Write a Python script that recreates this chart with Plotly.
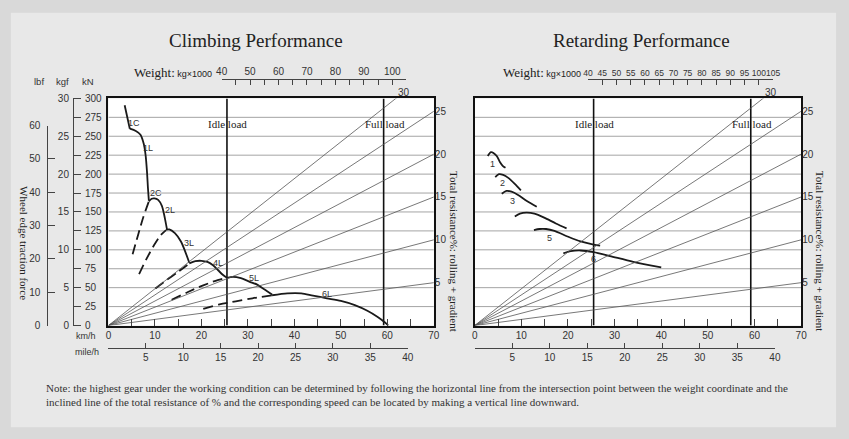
import plotly.graph_objects as go

# ---------------- data ----------------
speed_ticks = [0, 10, 20, 30, 40, 50, 60, 70]
speed_minor_ticks = [5, 15, 25, 35, 45, 55, 65]
mph_ticks = [0, 5, 10, 15, 20, 25, 30, 35, 40]
mph_labels = ["", "5", "10", "15", "20", "25", "30", "35", "40"]
force_kn_ticks = [0, 25, 50, 75, 100, 125, 150, 175, 200, 225, 250, 275, 300]
force_kgf_ticks = [0, 5, 10, 15, 20, 25, 30]
force_lbf_ticks = [0, 10, 20, 30, 40, 50, 60]
weight_climb_ticks = [40, 50, 60, 70, 80, 90, 100]
weight_climb_minor = [45, 55, 65, 75, 85, 95, 105]
weight_retard_ticks = [40, 45, 50, 55, 60, 65, 70, 75, 80, 85, 90, 95, 100, 105]
resistance_ticks = [5, 10, 15, 20, 25]
resistance_lines = [5, 10, 15, 20, 25, 30]
idle_load_speed = 25.5
full_load_speed = 59.2

# climbing performance: speed (km/h) / traction force (kN)
c1c_speed = [3.5, 4.6]
c1c_force = [291, 260]
c1l_speed = [4.6, 5.9, 6.9, 7.6, 8.0, 8.3, 8.5, 8.7]
c1l_force = [260, 257, 252, 240, 225, 203, 182, 165]
c2_dash_speed = [5.2, 6.4, 7.5, 8.7]
c2_dash_force = [94, 120, 143, 164]
c2_speed = [8.7, 9.3, 9.9, 10.7, 11.5, 12.0, 12.3, 12.6]
c2_force = [164, 167.5, 168, 166, 158, 146, 137, 127]
c3_dash_speed = [6.6, 8.2, 9.8, 11.2, 12.4]
c3_dash_force = [68, 88, 106, 119, 126]
c3_speed = [12.4, 13.1, 14.3, 15.6, 16.5, 17.4]
c3_force = [126.5, 127, 122, 111, 98, 83]
c4_dash_speed = [10.1, 12.5, 15.0, 17.4]
c4_dash_force = [49, 60, 71, 82]
c4_speed = [17.4, 18.7, 20.0, 21.3, 22.5, 23.6, 24.6, 25.5]
c4_force = [82, 85, 85.5, 84, 79.5, 73, 67, 63]
c5_dash_speed = [13.6, 17.0, 20.4, 23.5, 25.5]
c5_dash_force = [34, 44, 53, 60, 63]
c5_speed = [25.5, 26.8, 28.5, 30.3, 32.0, 33.5, 35.2]
c5_force = [63, 64.3, 62.5, 58, 54, 48, 41]
c6_dash_speed = [20.4, 23.9, 27.4, 31.0, 35.2]
c6_dash_force = [22, 28, 32, 36, 40]
c6_speed = [35.2, 38.5, 41.5, 44.0, 47.0, 50.0, 53.0, 55.7, 58.0, 59.5, 60.2]
c6_force = [40, 42.5, 42.5, 39.5, 36, 32.5, 27, 19.5, 11, 4, 0]

climb_labels = ["1C", "1L", "2C", "2L", "3L", "4L", "5L", "6L"]
climb_label_speed = [5.6, 8.5, 10.2, 13.3, 17.4, 23.5, 31.4, 47.0]
climb_label_force = [268, 234, 174.5, 153, 109, 82, 62.4, 41.6]

# retarding performance: speed (km/h) / force (kN)
r1_speed = [2.8, 3.5, 4.7, 5.4, 6.0, 6.6]
r1_force = [224, 229, 224, 216, 211, 208.5]
r2_speed = [4.4, 5.2, 6.1, 7.2, 8.6, 9.9]
r2_force = [196, 200, 199, 195, 187, 178.6]
r3_speed = [5.8, 6.8, 7.9, 9.3, 11.1, 13.3]
r3_force = [174, 177.7, 176.8, 172.5, 164.8, 157]
r4_speed = [8.6, 9.7, 11.1, 12.8, 14.9, 17.4, 19.7]
r4_force = [144, 147.7, 149, 147.7, 142.5, 134.8, 128.4]
r5_speed = [12.7, 13.9, 15.3, 17.1, 19.9, 22.7, 25.5, 26.9]
r5_force = [126, 127.5, 127.5, 125, 117.6, 111, 106.9, 105.6]
r6_speed = [19.0, 20.6, 22.7, 25.5, 29.0, 34.0, 40.0]
r6_force = [95.3, 98.2, 99.1, 97, 91.8, 84.1, 76.9]

retard_labels = ["1", "2", "3", "5", "6"]
retard_label_speed = [3.8, 6.0, 8.2, 16.1, 25.5]
retard_label_force = [214, 188, 164, 115.5, 87.5]

# ---------------- layout helpers ----------------
W, H = 849, 439
def px_x(p): return p / W
def px_y(p): return 1 - p / H

SERIF = "Liberation Serif, Times New Roman, serif"
SANS = "Liberation Sans, Arial, sans-serif"
SPEED_RANGE = [0, 70]
FORCE_RANGE = [0, 300]
RES_MAX = 26.5
KMH_PER_MPH = 1.609344
PLOT_TOP, PLOT_BOTTOM = 95, 328.5
LEFT_X0, LEFT_X1 = 104, 434.5
RIGHT_X0, RIGHT_X1 = 476, 807.5
Y_DOM = [px_y(PLOT_BOTTOM), px_y(PLOT_TOP)]
INK = "#1a1a1a"
TXT = "#333333"
GRID = "#9a9a9a"

fig = go.Figure()

def add_line(x, y, xa, ya, width=1.8, dash=None, color=INK, shape="spline"):
    fig.add_trace(go.Scatter(
        x=x, y=y, xaxis=xa, yaxis=ya, mode="lines",
        line=dict(color=color, width=width, dash=dash, shape=shape, smoothing=0.8),
        showlegend=False, hoverinfo="skip"))

def anchor_axis(x, y, xa, ya):
    # invisible trace so that the scale axis is drawn
    fig.add_trace(go.Scatter(x=x, y=y, xaxis=xa, yaxis=ya, mode="markers",
                             marker=dict(size=1, opacity=0), showlegend=False,
                             hoverinfo="skip"))

# horizontal force grid (drawn from the kN tick values)
for xa, ya in (("x", "y"), ("x2", "y2")):
    for f in force_kn_ticks[1:-1]:
        add_line(SPEED_RANGE, [f, f], xa, ya, width=0.9, color=GRID, shape="linear")

# resistance fan lines
for xa, ya in (("x", "y3"), ("x2", "y4")):
    for r in resistance_lines:
        add_line(SPEED_RANGE, [0, r], xa, ya, width=0.8, color="#555555", shape="linear")

# idle / full load verticals
for xa, ya in (("x", "y"), ("x2", "y2")):
    for v in (idle_load_speed, full_load_speed):
        add_line([v, v], FORCE_RANGE, xa, ya, width=1.6, color="#111111", shape="linear")

DASH = "10px,5px"
# climbing curves
add_line(c1c_speed, c1c_force, "x", "y", shape="linear")
add_line(c1l_speed, c1l_force, "x", "y")
for ds, df, s, f in ((c2_dash_speed, c2_dash_force, c2_speed, c2_force),
                     (c3_dash_speed, c3_dash_force, c3_speed, c3_force),
                     (c4_dash_speed, c4_dash_force, c4_speed, c4_force),
                     (c5_dash_speed, c5_dash_force, c5_speed, c5_force),
                     (c6_dash_speed, c6_dash_force, c6_speed, c6_force)):
    add_line(ds, df, "x", "y", dash=DASH)
    add_line(s, f, "x", "y")

# retarding curves
for s, f in ((r1_speed, r1_force), (r2_speed, r2_force), (r3_speed, r3_force),
             (r4_speed, r4_force), (r5_speed, r5_force), (r6_speed, r6_force)):
    add_line(s, f, "x2", "y2")

# scale axes anchors
anchor_axis(weight_climb_ticks, [FORCE_RANGE[0]] * len(weight_climb_ticks), "x3", "y")
anchor_axis(mph_ticks, [FORCE_RANGE[0]] * len(mph_ticks), "x4", "y")
anchor_axis(weight_retard_ticks, [FORCE_RANGE[0]] * len(weight_retard_ticks), "x5", "y2")
anchor_axis(mph_ticks, [FORCE_RANGE[0]] * len(mph_ticks), "x6", "y2")
anchor_axis([SPEED_RANGE[0]] * len(force_kn_ticks), force_kn_ticks, "x", "y5")
anchor_axis([SPEED_RANGE[0]] * len(force_kgf_ticks), force_kgf_ticks, "x", "y6")
anchor_axis([SPEED_RANGE[0]] * len(force_lbf_ticks), force_lbf_ticks, "x", "y7")

annotations = []
def note(text, x, y, xref="paper", yref="paper", size=10, family=SANS, color=TXT,
         xanchor="center", yanchor="middle", angle=0, xshift=0, yshift=0, align="center"):
    annotations.append(dict(text=text, x=x, y=y, xref=xref, yref=yref, showarrow=False,
                            font=dict(size=size, family=family, color=color),
                            xanchor=xanchor, yanchor=yanchor, textangle=angle,
                            xshift=xshift, yshift=yshift, align=align))

for t, sx, fy in zip(climb_labels, climb_label_speed, climb_label_force):
    note(t, sx, fy, "x", "y", size=9)
for t, sx, fy in zip(retard_labels, retard_label_speed, retard_label_force):
    note(t, sx, fy, "x2", "y2", size=9)

# idle / full load texts
for xr in ("x", "x2"):
    note("Idle load", idle_load_speed, px_y(121), xr, "paper", size=11, family=SERIF, color="#222", xshift=1)
    note("Full load", full_load_speed, px_y(121), xr, "paper", size=11, family=SERIF, color="#222", xshift=1)

# "30" labels at the steepest resistance line
exit_speed = SPEED_RANGE[1] * RES_MAX / resistance_lines[-1]
note("30", exit_speed, RES_MAX, "x", "y3", size=10, xshift=8, yshift=6)
note("30", exit_speed, RES_MAX, "x2", "y4", size=10, xshift=8, yshift=6)

# titles
note("Climbing Performance", px_x(253.5), px_y(35), size=19, family=SERIF, color="#222")
note("Retarding Performance", px_x(645.5), px_y(35), size=19, family=SERIF, color="#222")

weight_txt = ("Weight:<span style='font-family:Liberation Sans, Arial;font-size:9px'> kg\u00d71000</span>")
note(weight_txt, px_x(211), px_y(68), size=13, family=SERIF, color="#222", xanchor="right")
note(weight_txt, px_x(586), px_y(68), size=13, family=SERIF, color="#222", xanchor="right")

# left axis headers
note("lbf", px_x(34), px_y(78), size=9.5)
note("kgf", px_x(57.5), px_y(78), size=9.5)
note("kN", px_x(83), px_y(78), size=9.5)
note("km/h", px_x(81), px_y(339.5), size=9)
note("mile/h", px_x(82), px_y(355.5), size=9)

note("Wheel edge traction force", px_x(18), px_y(243.5), size=11, family=SERIF, color="#222", angle=90)
note("Total resistance%: rolling + gradient", px_x(455), px_y(252), size=11, family=SERIF, color="#222", angle=90)
note("Total resistance%: rolling + gradient", px_x(827), px_y(252), size=11, family=SERIF, color="#222", angle=90)

note("Note: the highest gear under the working condition can be determined by following the horizontal line "
     "from the intersection point between the weight coordinate and the<br>"
     "inclined line of the total resistance of % and the corresponding speed can be located by making a "
     "vertical line downward.",
     px_x(39), px_y(399.5), size=11, family=SERIF, color="#333", xanchor="left", align="left")

tickfont = dict(size=10, family=SANS, color=TXT)

def speed_axis(x0, x1, anchor):
    return dict(domain=[px_x(x0), px_x(x1)], range=SPEED_RANGE, anchor=anchor,
                showline=True, linecolor="#111", linewidth=1.6, mirror=True,
                tickvals=speed_ticks, ticks="inside", ticklen=7, tickcolor="#444", tickwidth=1,
                minor=dict(tickvals=speed_minor_ticks, ticks="inside", ticklen=7,
                           tickcolor="#444", tickwidth=1, showgrid=False),
                showgrid=False, zeroline=False, tickfont=tickfont, tickangle=0, fixedrange=True)

def force_axis(anchor):
    return dict(domain=Y_DOM, range=FORCE_RANGE, anchor=anchor,
                showline=True, linecolor="#111", linewidth=1.6, mirror=True,
                tickvals=force_kn_ticks, ticks="", showticklabels=False,
                showgrid=False, zeroline=False, fixedrange=True)

def res_axis(over, anchor):
    return dict(overlaying=over, anchor=anchor, side="right", range=[0, RES_MAX],
                tickvals=resistance_ticks, ticks="", showline=False, showgrid=False,
                zeroline=False, tickfont=tickfont, ticklabelstandoff=0, fixedrange=True)

def weight_axis(x0, x1, vals, minor, size):
    d = dict(domain=[px_x(x0), px_x(x1)], range=[40, 105], anchor="free",
             position=px_y(75), side="top", tickvals=vals, ticks="inside", ticklen=5,
             tickcolor="#444", tickwidth=1, showline=True, linecolor="#444", linewidth=1,
             showgrid=False, zeroline=False, tickangle=0,
             tickfont=dict(size=size, family=SANS, color=TXT), fixedrange=True)
    if minor:
        d["minor"] = dict(tickvals=minor, ticks="inside", ticklen=5, tickcolor="#444",
                          tickwidth=1, showgrid=False)
    return d

def mph_axis(x0, px_per_kmh):
    x1 = x0 + mph_ticks[-1] * KMH_PER_MPH * px_per_kmh
    return dict(domain=[px_x(x0), px_x(x1)], range=[0, mph_ticks[-1]], anchor="free",
                position=px_y(352), side="bottom", tickvals=mph_ticks, ticktext=mph_labels,
                ticks="inside", ticklen=5, tickcolor="#444", tickwidth=1,
                showline=True, linecolor="#444", linewidth=1, showgrid=False,
                zeroline=False, tickangle=0, tickfont=tickfont, fixedrange=True)

left_ppk = (LEFT_X1 - LEFT_X0) / SPEED_RANGE[1]
right_ppk = (RIGHT_X1 - RIGHT_X0) / SPEED_RANGE[1]

shapes = [dict(type="rect", xref="paper", yref="paper", x0=px_x(5), x1=px_x(843),
               y0=px_y(433), y1=px_y(7), fillcolor="#e8e8e8", line=dict(width=0),
               layer="below")]
for x0, x1 in ((LEFT_X0, LEFT_X1), (RIGHT_X0, RIGHT_X1)):
    shapes.append(dict(type="rect", xref="paper", yref="paper", x0=px_x(x0), x1=px_x(x1),
                       y0=Y_DOM[0], y1=Y_DOM[1], fillcolor="#ffffff", line=dict(width=0),
                       layer="below"))

fig.update_layout(
    width=W, height=H,
    margin=dict(l=0, r=0, t=0, b=0),
    paper_bgcolor="#d9d9d9",
    plot_bgcolor="rgba(0,0,0,0)",
    showlegend=False,
    xaxis=speed_axis(LEFT_X0, LEFT_X1, "y"),
    xaxis2=speed_axis(RIGHT_X0, RIGHT_X1, "y2"),
    xaxis3=weight_axis(219, 406.7, weight_climb_ticks, weight_climb_minor, 10),
    xaxis4=mph_axis(LEFT_X0, left_ppk),
    xaxis5=weight_axis(591, 779, weight_retard_ticks, None, 8.5),
    xaxis6=mph_axis(RIGHT_X0, right_ppk),
    yaxis=force_axis("x"),
    yaxis2=force_axis("x2"),
    yaxis3=res_axis("y", "x"),
    yaxis4=res_axis("y2", "x2"),
    yaxis5=dict(overlaying="y", anchor="free", position=px_x(68), side="right",
                range=FORCE_RANGE, tickvals=force_kn_ticks, ticks="outside", ticklen=7,
                tickcolor="#444", tickwidth=1, showline=True, linecolor="#444", linewidth=1,
                showgrid=False, zeroline=False, tickfont=tickfont, ticklabelstandoff=2,
                fixedrange=True),
    yaxis6=dict(overlaying="y", anchor="free", position=px_x(68), side="left",
                range=[FORCE_RANGE[0] / 10, FORCE_RANGE[1] / 10], tickvals=force_kgf_ticks,
                ticks="", showline=False, showgrid=False, zeroline=False, tickfont=tickfont,
                ticklabelstandoff=4, fixedrange=True),
    yaxis7=dict(domain=[px_y(PLOT_BOTTOM), px_y(123)], anchor="free", position=px_x(42),
                side="left", range=[0, 60], tickvals=force_lbf_ticks, ticks="inside",
                ticklen=7, tickcolor="#444", tickwidth=1, showline=True, linecolor="#444",
                linewidth=1, showgrid=False, zeroline=False, tickfont=tickfont,
                ticklabelstandoff=5, fixedrange=True),
    annotations=annotations,
    shapes=shapes,
)

fig.write_html("out.html", config={"displayModeBar": False},
               post_script="document.body.style.margin='0';")
